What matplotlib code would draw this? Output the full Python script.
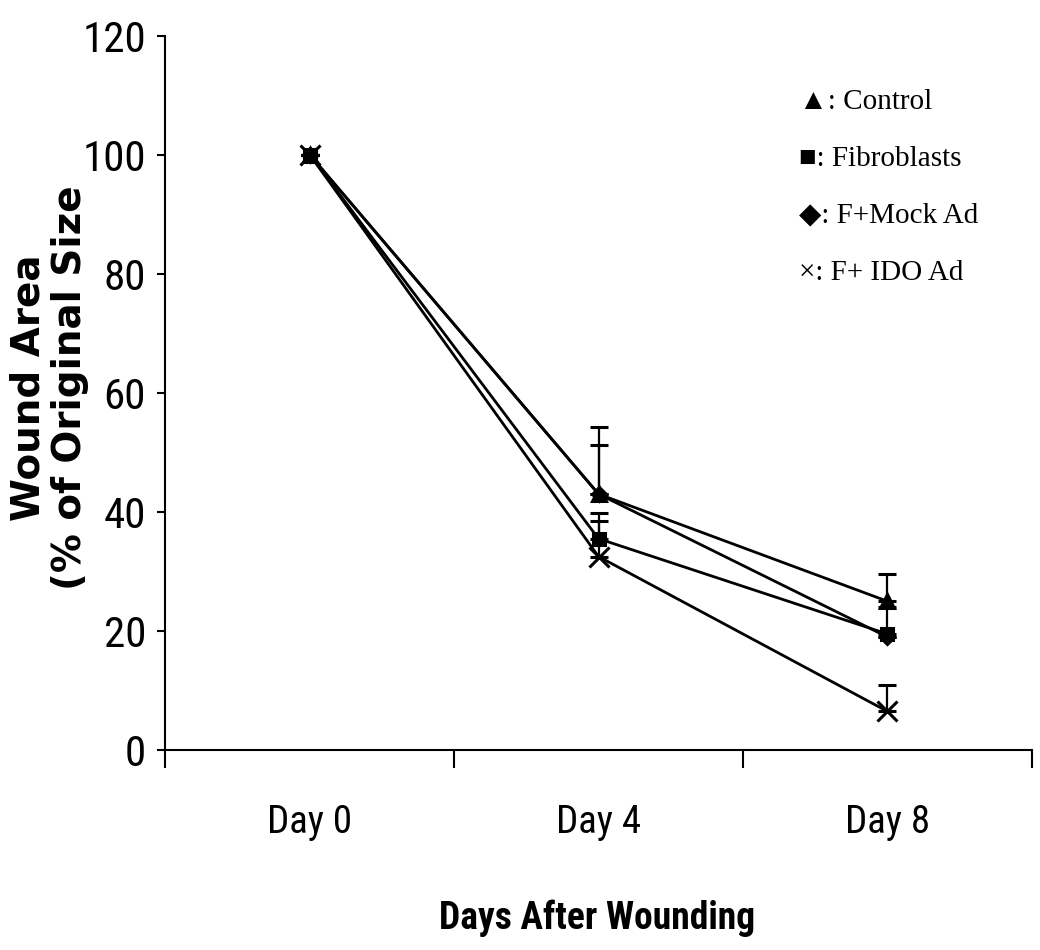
import numpy as np
import matplotlib.pyplot as plt
from matplotlib import font_manager as fm

# wound closure over time, % of original wound area
days = ['Day 0', 'Day 4', 'Day 8']
control = [100, 43, 25]
fibroblasts = [100, 35.5, 19.5]
mock_ad = [100, 43, 19]
ido_ad = [100, 32.5, 6.5]

# upper error bars (SD)
control_err = [0, 11.3, 4.5]
fibroblasts_err = [0, 4.3, 4.5]
mock_err = [0, 8.3, 0]
ido_err = [0, 6, 4.5]

yticks = [0, 20, 40, 60, 80, 100, 120]


def condensed_font(weight):
    """Pick a narrow sans face if one is installed, else plain Liberation Sans."""
    best = None
    for f in fm.fontManager.ttflist:
        narrow = 'Narrow' in f.name or 'Condensed' in f.name or \
            f.stretch in ('condensed', 'semi-condensed', 'extra-condensed')
        if not narrow or f.style != 'normal':
            continue
        w = fm.weight_dict.get(f.weight, f.weight) if isinstance(f.weight, str) else f.weight
        if (weight == 'bold') != (w >= 600):
            continue
        rank = 0 if 'Liberation' in f.name else (1 if 'Roboto' in f.name else 2)
        if best is None or rank < best[0]:
            best = (rank, f.fname)
    if best:
        return fm.FontProperties(fname=best[1])
    return fm.FontProperties(family='Liberation Sans', weight=weight)


tick_font = condensed_font('normal')
label_font = condensed_font('bold')

fig = plt.figure(figsize=(10.4, 9.5), dpi=100)
ax = fig.add_axes([0.159, 0.2105, 0.833, 0.752])

x = np.arange(len(days)) + 0.5

series = [
    (mock_ad, mock_err, 'D', 7),
    (fibroblasts, fibroblasts_err, 's', 9),
    (control, control_err, '^', 10),
    (ido_ad, ido_err, 'x', 14),
]
for vals, err, mk, ms in series:
    ax.errorbar(x, vals, yerr=[np.zeros(len(err)), err], color='black',
                lw=2.0, marker=mk, ms=ms, mew=2.2, capsize=6.5, capthick=2.4,
                elinewidth=1.6)

ax.set_xlim(0, 3)
ax.set_ylim(0, 120)

ax.spines['top'].set_visible(False)
ax.spines['right'].set_visible(False)
ax.spines['left'].set_linewidth(1.5)
ax.spines['bottom'].set_linewidth(1.5)

ax.set_yticks(yticks)
ax.set_yticklabels([str(v) for v in yticks], fontproperties=tick_font, fontsize=31)
ax.tick_params(axis='y', direction='out', length=6, width=1.5, pad=8)

ax.set_xticks([0, 1, 2, 3])
ax.set_xticklabels([])
ax.set_xticks(x, minor=True)
ax.set_xticklabels(days, minor=True, fontproperties=tick_font, fontsize=28)
ax.tick_params(axis='x', which='major', direction='out', length=13, width=1.5)
ax.tick_params(axis='x', which='minor', length=0, pad=39)

fig.text(0.574, 0.022, 'Days After Wounding', ha='center', va='baseline',
         fontproperties=label_font, fontsize=27)
fig.text(0.047, 0.592, 'Wound Area\n(% of Original Size', rotation=90,
         ha='center', va='center', family='DejaVu Sans', fontsize=28,
         fontweight='bold', linespacing=1.12)

# legend drawn as text lines with marker glyphs
legend_items = ['\u25b2: Control', '\u25a0: Fibroblasts',
                '\u25c6: F+Mock Ad', '\u00d7: F+ IDO Ad']
for i, label in enumerate(legend_items):
    fig.text(0.768, 0.893 - i * 0.06, label, ha='left', va='center',
             family=['Liberation Serif', 'DejaVu Sans'], fontsize=21)

fig.savefig('out.png', dpi=100)
